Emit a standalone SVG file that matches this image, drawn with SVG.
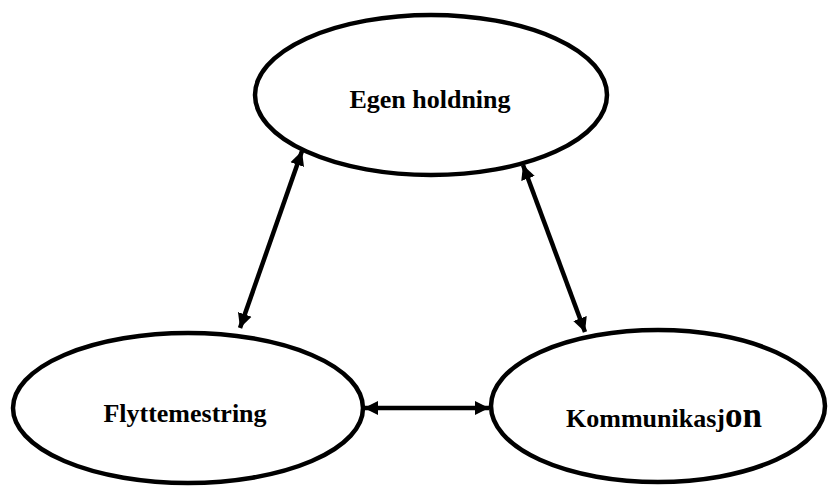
<svg xmlns="http://www.w3.org/2000/svg" width="829" height="487" viewBox="0 0 829 487">
  <defs>
    <marker id="head" viewBox="0 0 10 10" refX="10" refY="5" markerWidth="3.2" markerHeight="3.4" orient="auto-start-reverse" markerUnits="strokeWidth">
      <path d="M0,0 L10,5 L0,10 Z" fill="#000"/>
    </marker>
  </defs>
  <style>
    .node ellipse { fill: #fff; stroke: #000; stroke-width: 4.5; }
    .label { font-family: "Liberation Serif", "Times New Roman", serif; font-weight: bold; font-size: 26px; fill: #000; text-anchor: middle; }
    .links line { stroke: #000; stroke-width: 4.5; marker-start: url(#head); marker-end: url(#head); }
  </style>

  <g class="links">
    <line x1="302" y1="151" x2="240" y2="328"/>
    <line x1="523" y1="165" x2="585" y2="332"/>
    <line x1="364" y1="408" x2="489" y2="408"/>
  </g>

  <g id="egen-holdning" class="node">
    <ellipse cx="431" cy="95" rx="176" ry="80"/>
    <text class="label" x="430" y="108">Egen holdning</text>
  </g>

  <g id="flyttemestring" class="node">
    <ellipse cx="188" cy="408" rx="175" ry="75"/>
    <text class="label" x="185" y="422">Flyttemestring</text>
  </g>

  <g id="kommunikasjon" class="node">
    <ellipse cx="658" cy="406" rx="167" ry="76"/>
    <text class="label" x="664" y="427">Kommunikasj<tspan font-size="35px">on</tspan></text>
  </g>
</svg>
